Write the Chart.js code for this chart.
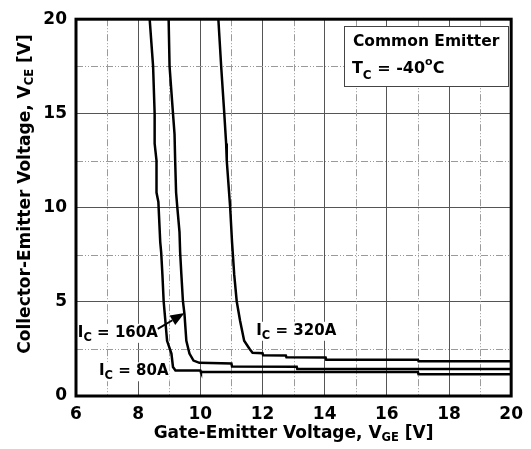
<!DOCTYPE html>
<html>
<head>
<meta charset="utf-8">
<title>VCE vs VGE</title>
<script src="https://cdn.jsdelivr.net/npm/chart.js@4.4.0/dist/chart.umd.min.js"></script>
<style>
    html, body { margin: 0; padding: 0; background: #fff; }
    #wrap { width: 531px; height: 449px; }
</style>
</head>
<body>
<div id="wrap"><canvas id="vce-vge-chart" width="531" height="449"></canvas></div>
<script>
// Ic = 80A
var vge80 = [8.37, 8.48, 8.53, 8.53, 8.59, 8.59, 8.65, 8.71, 8.74, 8.78, 8.82, 8.93, 9.07, 9.12, 9.2, 10.0, 10.02, 17.0, 17.02, 20];
var vce80 = [20, 17.5, 15, 13.4, 12.5, 10.8, 10.3, 8.17, 7.64, 6.44, 5.03, 2.93, 2.25, 1.54, 1.35, 1.35, 1.27, 1.27, 1.15, 1.15];

// Ic = 160A
var vge160 = [8.98, 9.01, 9.12, 9.17, 9.19, 9.22, 9.26, 9.33, 9.35, 9.39, 9.44, 9.49, 9.55, 9.65, 9.78, 9.97, 11.0, 11.02, 13.1, 13.12, 20];
var vce160 = [20, 17.5, 15, 13.9, 12.5, 10.8, 10, 8.7, 7.64, 6.44, 5.03, 4.35, 2.93, 2.25, 1.88, 1.76, 1.72, 1.57, 1.55, 1.43, 1.43];

// Ic = 320A
var vge320 = [10.58, 10.67, 10.77, 10.83, 10.85, 10.96, 11.02, 11.09, 11.17, 11.28, 11.41, 11.58, 11.68, 12.0, 12.02, 12.75, 12.77, 14.03, 14.05, 17.0, 17.02, 20];
var vce320 = [20, 17.5, 15, 13.4, 12.5, 10, 8.17, 6.44, 5.03, 3.98, 2.93, 2.51, 2.3, 2.27, 2.16, 2.15, 2.06, 2.05, 1.93, 1.93, 1.85, 1.85];

// Axes
var xTicks = [6, 8, 10, 12, 14, 16, 18, 20];
var yTicks = [0, 5, 10, 15, 20];
var xMinor = [7, 9, 11, 13, 15, 17, 19];
var yMinor = [2.5, 7.5, 12.5, 17.5];

(function () {
    "use strict";

    var FONT = "'DejaVu Sans', 'Liberation Sans', sans-serif";

    function toPoints(xs, ys) {
        return xs.map(function (x, i) { return {x: x, y: ys[i]}; });
    }

    // text with sub / superscripts: parts = [text, size, dy]
    function richWidth(ctx, parts) {
        var w = 0;
        parts.forEach(function (p) {
            ctx.font = 'bold ' + p[1] + 'px ' + FONT;
            w += ctx.measureText(p[0]).width;
        });
        return w;
    }
    function richText(ctx, parts, x, y) {
        var cx = x;
        parts.forEach(function (p) {
            ctx.font = 'bold ' + p[1] + 'px ' + FONT;
            ctx.fillText(p[0], cx, y + (p[2] || 0));
            cx += ctx.measureText(p[0]).width;
        });
        return cx - x;
    }

    // Curve labels (data coords of left/baseline)
    var curveLabels = [
        {parts: [['I', 15], ['C', 11.5, 4], [' = 160A', 15]], x: 6.06, y: 3.14},
        {parts: [['I', 15], ['C', 11.5, 4], [' = 80A', 15]], x: 6.74, y: 1.10},
        {parts: [['I', 15], ['C', 11.5, 4], [' = 320A', 15]], x: 11.8, y: 3.25}
    ];

    // Dashed minor grid
    var minorGrid = {
        id: 'minorGrid',
        beforeDatasetsDraw: function (chart) {
            var ctx = chart.ctx, a = chart.chartArea;
            var xs = chart.scales.x, ys = chart.scales.y;
            ctx.save();
            ctx.strokeStyle = '#9a9a9a';
            ctx.lineWidth = 1;
            ctx.setLineDash([7, 2, 1, 2, 1, 2]);
            xMinor.forEach(function (v) {
                var px = Math.round(xs.getPixelForValue(v)) + 0.5;
                ctx.beginPath();
                ctx.moveTo(px, a.top);
                ctx.lineTo(px, a.bottom);
                ctx.stroke();
            });
            yMinor.forEach(function (v) {
                var py = Math.round(ys.getPixelForValue(v)) + 0.5;
                ctx.beginPath();
                ctx.moveTo(a.left, py);
                ctx.lineTo(a.right, py);
                ctx.stroke();
            });
            ctx.restore();
        }
    };

    // Labels, arrow, info box, axis titles, frame
    var annotations = {
        id: 'annotations',
        afterDatasetsDraw: function (chart) {
            var ctx = chart.ctx;
            var xs = chart.scales.x, ys = chart.scales.y;
            ctx.save();
            ctx.fillStyle = '#000';
            ctx.textBaseline = 'alphabetic';

            curveLabels.forEach(function (l) {
                var px = xs.getPixelForValue(l.x), py = ys.getPixelForValue(l.y);
                var w = richWidth(ctx, l.parts);
                ctx.fillStyle = '#fff';
                ctx.fillRect(px - 1, py - 13, w + 2, 19);
                ctx.fillStyle = '#000';
                richText(ctx, l.parts, px, py);
            });

            // arrow to the 160A curve
            var x0 = xs.getPixelForValue(8.63), y0 = ys.getPixelForValue(3.56);
            var x1 = xs.getPixelForValue(9.49), y1 = ys.getPixelForValue(4.40);
            var ang = Math.atan2(y1 - y0, x1 - x0);
            var hl = 14, hw = 5.5;
            ctx.strokeStyle = '#000';
            ctx.lineWidth = 2;
            ctx.beginPath();
            ctx.moveTo(x0, y0);
            ctx.lineTo(x1 - hl * Math.cos(ang), y1 - hl * Math.sin(ang));
            ctx.stroke();
            ctx.beginPath();
            ctx.moveTo(x1, y1);
            ctx.lineTo(x1 - hl * Math.cos(ang) + hw * Math.sin(ang), y1 - hl * Math.sin(ang) - hw * Math.cos(ang));
            ctx.lineTo(x1 - hl * Math.cos(ang) - hw * Math.sin(ang), y1 - hl * Math.sin(ang) + hw * Math.cos(ang));
            ctx.closePath();
            ctx.fill();

            // info box
            var bx0 = xs.getPixelForValue(14.62), by0 = ys.getPixelForValue(19.63);
            var bx1 = xs.getPixelForValue(19.9), by1 = ys.getPixelForValue(16.44);
            ctx.fillStyle = '#fff';
            ctx.fillRect(bx0, by0, bx1 - bx0, by1 - by0);
            ctx.strokeStyle = '#444';
            ctx.lineWidth = 1;
            ctx.strokeRect(Math.round(bx0) + 0.5, Math.round(by0) + 0.5, Math.round(bx1 - bx0), Math.round(by1 - by0));
            ctx.fillStyle = '#000';
            richText(ctx, [['Common Emitter', 15.5]], bx0 + 9, by0 + 20);
            richText(ctx, [['T', 16], ['C', 12, 6], [' = -40', 16], ['o', 11, -8], ['C', 16]], bx0 + 8, by0 + 47);
            ctx.restore();
        },
        afterDraw: function (chart) {
            var ctx = chart.ctx, a = chart.chartArea;
            ctx.save();
            ctx.fillStyle = '#000';
            ctx.textBaseline = 'alphabetic';

            // x title
            var xt = [['Gate-Emitter Voltage, V', 17], ['GE', 11.5, 3], [' [V]', 17]];
            var w = richWidth(ctx, xt);
            richText(ctx, xt, (a.left + a.right) / 2 - w / 2, 438);

            // y title
            var yt = [['Collector-Emitter Voltage, V', 17], ['CE', 11.5, 3], [' [V]', 17]];
            w = richWidth(ctx, yt);
            ctx.translate(30, 194);
            ctx.rotate(-Math.PI / 2);
            richText(ctx, yt, -w / 2, 0);
            ctx.restore();

            // frame
            ctx.save();
            ctx.strokeStyle = '#000';
            ctx.lineWidth = 3;
            ctx.strokeRect(a.left, a.top, a.right - a.left, a.bottom - a.top);
            ctx.restore();
        }
    };

    function line(xs, ys) {
        return {
            data: toPoints(xs, ys),
            showLine: true,
            borderColor: '#000',
            borderWidth: 2.5,
            pointRadius: 0,
            tension: 0,
            fill: false
        };
    }

    var ctx = document.getElementById('vce-vge-chart').getContext('2d');
    var chart = new Chart(ctx, {
        type: 'scatter',
        data: {
            datasets: [
                line(vge80, vce80),
                line(vge160, vce160),
                line(vge320, vce320)
            ]
        },
        options: {
            responsive: false,
            animation: false,
            devicePixelRatio: 1,
            layout: {padding: {top: 14, right: 18, left: 0, bottom: 0}},
            plugins: {
                legend: {display: false},
                tooltip: {enabled: false}
            },
            scales: {
                x: {
                    type: 'linear',
                    min: 6,
                    max: 20,
                    afterBuildTicks: function (axis) {
                        axis.ticks = xTicks.map(function (v) { return {value: v}; });
                    },
                    afterFit: function (axis) { axis.height = 53; },
                    ticks: {
                        color: '#000',
                        padding: 8,
                        maxRotation: 0,
                        font: {family: FONT, weight: 'bold', size: 17}
                    },
                    grid: {color: '#555', lineWidth: 1, drawTicks: false},
                    border: {display: false}
                },
                y: {
                    type: 'linear',
                    min: 0,
                    max: 20,
                    afterBuildTicks: function (axis) {
                        axis.ticks = yTicks.map(function (v) { return {value: v}; });
                    },
                    afterFit: function (axis) { axis.width = 76; },
                    ticks: {
                        color: '#000',
                        padding: 9,
                        font: {family: FONT, weight: 'bold', size: 17}
                    },
                    grid: {color: '#555', lineWidth: 1, drawTicks: false},
                    border: {display: false}
                }
            }
        },
        plugins: [minorGrid, annotations]
    });
})();
</script>
</body>
</html>
